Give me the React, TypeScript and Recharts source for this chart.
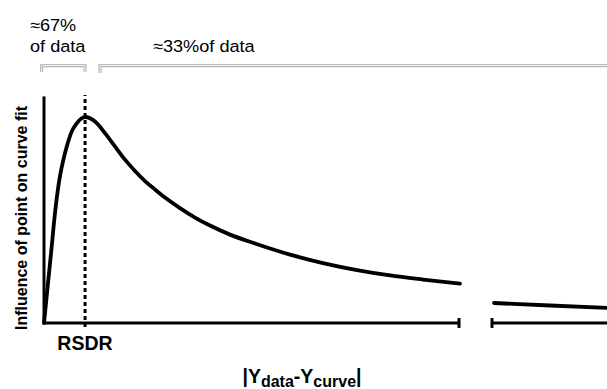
import { Line, LineChart, ReferenceLine, XAxis, YAxis } from "recharts";

// Influence curve: rises to a peak at RSDR, then decays; axis is broken near the far end.
// x is in RSDR units, y is normalised influence (peak = 1).
const xValues = [
  0, 0.105, 0.187, 0.268, 0.373, 0.47, 0.553, 0.674, 0.796, 0.918, 1.0, 1.242, 1.485,
  1.729, 1.972, 2.216, 2.459, 2.703, 2.946, 3.311, 3.677, 4.042, 4.529, 5.138, 5.99,
  6.793, 7.621, 8.425, 9.228, 10.129, 10.5, 10.957, 12.32, 13.708,
];
const yValues: (number | null)[] = [
  0, 0.209, 0.37, 0.534, 0.694, 0.791, 0.856, 0.929, 0.969, 0.994, 1.0, 0.978, 0.922,
  0.857, 0.793, 0.738, 0.689, 0.648, 0.609, 0.558, 0.512, 0.473, 0.429, 0.386, 0.332,
  0.291, 0.257, 0.231, 0.211, 0.191, null, 0.097, 0.085, 0.073,
];

const RSDR = 1;
const X_MAX = 13.708;
const Y_MAX = 1.1;
const BREAK_LEFT = 10.105;
const BREAK_RIGHT = 10.908;

const data = xValues.map((x, i) => ({ x, y: yValues[i] }));

const W = 607;
const H = 389;
const font = "'Liberation Sans', Arial, sans-serif";
const TICK = 0.024;

function Overlay() {
  return (
    <svg
      width={W}
      height={H}
      style={{ position: "absolute", left: 0, top: 0, pointerEvents: "none" }}
    >
      {/* brackets: grey double line */}
      <g fill="none">
        <path d="M41.7,72 L41.7,65.7 L85,65.7 L85,72" stroke="#a8a8a8" strokeWidth={3} />
        <path d="M41.7,72 L41.7,65.7 L85,65.7 L85,72" stroke="#fff" strokeWidth={1} />
        <path d="M100,73 L100,65.7 L612,65.7" stroke="#a8a8a8" strokeWidth={3} />
        <path d="M100,73 L100,65.7 L612,65.7" stroke="#fff" strokeWidth={1} />
      </g>
      <g fontFamily={font} fontSize={16.5} fill="#000">
        <text transform="translate(30,31) scale(1.1,1)">≈67%</text>
        <text transform="translate(30,52) scale(1.1,1)">of data</text>
        <text transform="translate(153,52) scale(1.1,1)">≈33%of data</text>
      </g>
      <text
        transform="translate(27,218) rotate(-90)"
        textAnchor="middle"
        fontFamily={font}
        fontWeight="bold"
        fontSize={16}
      >
        Influence of point on curve fit
      </text>
      <text x={85} y={350} textAnchor="middle" fontFamily={font} fontWeight="bold" fontSize={19.5}>
        RSDR
      </text>
      <text x={302} y={383} textAnchor="middle" fontFamily={font} fontWeight="bold" fontSize={19.5}>
        |Y
        <tspan fontSize={16} dy={4}>data</tspan>
        <tspan dy={-4}>-Y</tspan>
        <tspan fontSize={16} dy={4}>curve</tspan>
        <tspan dy={-4}>|</tspan>
      </text>
    </svg>
  );
}

export default function App() {
  return (
    <div style={{ position: "absolute", left: 0, top: 0, width: W, height: H, background: "#fff" }}>
      <LineChart
        width={W}
        height={H}
        data={data}
        margin={{ top: 323 - Y_MAX * 206, right: 0, bottom: H - 323, left: 44 }}
      >
        <XAxis type="number" dataKey="x" domain={[0, X_MAX]} hide />
        <YAxis type="number" domain={[0, Y_MAX]} hide />
        {/* axes drawn as segments so the x-axis can be broken */}
        <ReferenceLine x={0} stroke="#000" strokeWidth={3} />
        <ReferenceLine
          segment={[{ x: 0, y: 0 }, { x: BREAK_LEFT, y: 0 }]}
          stroke="#000"
          strokeWidth={3}
          ifOverflow="visible"
        />
        <ReferenceLine
          segment={[{ x: BREAK_RIGHT, y: 0 }, { x: X_MAX, y: 0 }]}
          stroke="#000"
          strokeWidth={3}
          ifOverflow="visible"
        />
        <ReferenceLine
          segment={[{ x: BREAK_LEFT, y: -TICK }, { x: BREAK_LEFT, y: TICK }]}
          stroke="#000"
          strokeWidth={3}
          ifOverflow="visible"
        />
        <ReferenceLine
          segment={[{ x: BREAK_RIGHT, y: -TICK }, { x: BREAK_RIGHT, y: TICK }]}
          stroke="#000"
          strokeWidth={3}
          ifOverflow="visible"
        />
        <ReferenceLine
          segment={[{ x: RSDR, y: -0.02 }, { x: RSDR, y: Y_MAX + 0.007 }]}
          stroke="#000"
          strokeWidth={3}
          strokeDasharray="4 3"
          ifOverflow="visible"
        />
        <Line
          type="monotone"
          dataKey="y"
          stroke="#000"
          strokeWidth={3.8}
          strokeLinecap="round"
          dot={false}
          activeDot={false}
          isAnimationActive={false}
        />
      </LineChart>
      <Overlay />
    </div>
  );
}
